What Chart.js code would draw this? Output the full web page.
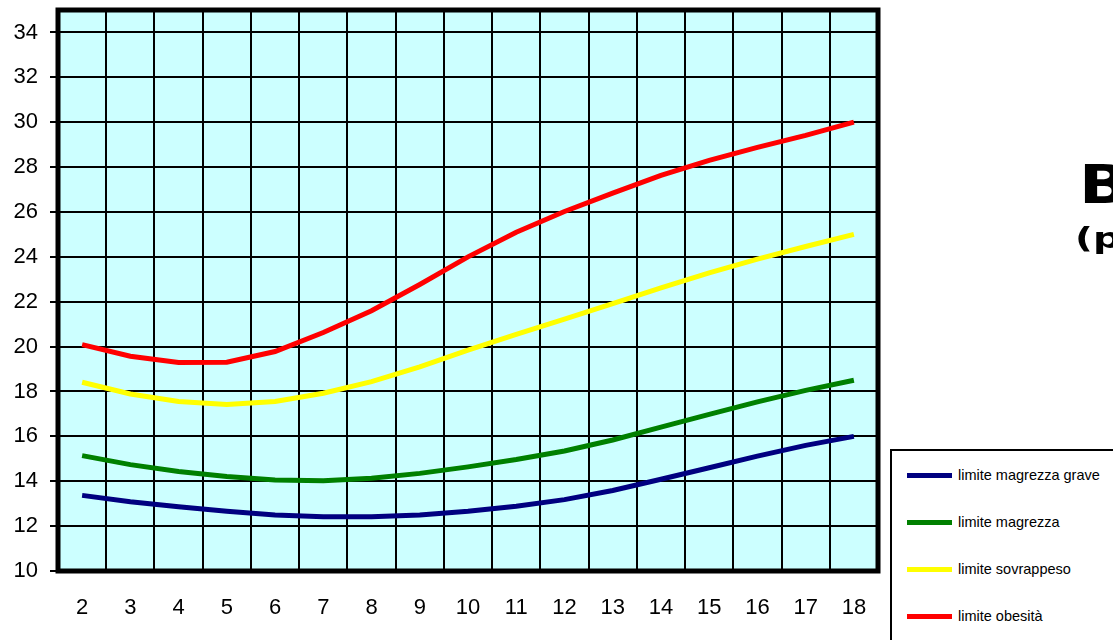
<!DOCTYPE html>
<html>
<head>
<meta charset="utf-8">
<script src="https://cdn.jsdelivr.net/npm/chart.js@4.4.1/dist/chart.umd.min.js"></script>
<style>
    html, body { margin: 0; padding: 0; background: #fff; overflow: hidden; }
    #wrap { position: relative; width: 1113px; height: 640px; overflow: hidden; }
    #chartBox { position: absolute; left: 0; top: 0; width: 1113px; height: 640px; }
    .titolo { position: absolute; font-family: "DejaVu Sans", sans-serif; font-weight: bold; color: #000; line-height: 1; white-space: nowrap; transform-origin: left top; }
    #legenda { position: absolute; left: 890px; top: 449px; width: 300px; height: 260px; border: 2px solid #000; background: #fff; box-sizing: border-box; }
    .voce { position: absolute; left: 0; height: 20px; width: 300px; }
    .voce span.linea { position: absolute; left: 15px; top: 8px; width: 45px; height: 5px; }
    .voce span.testo { position: absolute; left: 66px; top: 0; font-family: "Liberation Sans", Arial, sans-serif; font-size: 14.5px; line-height: 20px; color: #000; white-space: nowrap; }
</style>
</head>
<body>
<div id="wrap">
    <div id="chartBox"><canvas id="ChartBmi"></canvas></div>
    <div class="titolo" style="left:1079px; top:158px; font-size:54px; transform:scaleX(1.2);">BMI</div>
    <div class="titolo" style="left:1075px; top:224px; font-size:29px; transform:scaleX(1.35);">(per età)</div>
    <div id="legenda"></div>
</div>

<script>
// eta' (anni) e soglie BMI
var eta = ["2", "3", "4", "5", "6", "7", "8", "9", "10", "11", "12", "13", "14", "15", "16", "17", "18"];
var magrezzaGrave = [13.37, 13.09, 12.86, 12.66, 12.50, 12.42, 12.42, 12.50, 12.66, 12.89, 13.18, 13.59, 14.09, 14.60, 15.12, 15.60, 16.00];
var magrezza = [15.14, 14.74, 14.43, 14.21, 14.06, 14.02, 14.13, 14.35, 14.64, 14.97, 15.35, 15.84, 16.41, 16.98, 17.54, 18.05, 18.50];
var sovrappeso = [18.41, 17.89, 17.55, 17.42, 17.55, 17.92, 18.44, 19.10, 19.84, 20.55, 21.22, 21.91, 22.62, 23.29, 23.90, 24.46, 25.00];
var obesita = [20.09, 19.57, 19.29, 19.30, 19.78, 20.63, 21.60, 22.77, 24.00, 25.10, 26.02, 26.84, 27.63, 28.30, 28.88, 29.41, 30.00];
var yTicks = [10, 12, 14, 16, 18, 20, 22, 24, 26, 28, 30, 32, 34];

var serie = [
    { label: "limite magrezza grave", data: magrezzaGrave, color: "#000080" },
    { label: "limite magrezza", data: magrezza, color: "#008000" },
    { label: "limite sovrappeso", data: sovrappeso, color: "#ffff00" },
    { label: "limite obesità", data: obesita, color: "#ff0000" }
];

// sfondo e cornice dell'area del grafico
var cornice = {
    id: "cornice",
    beforeDraw: function (chart) {
        var a = chart.chartArea;
        var ctx = chart.ctx;
        ctx.save();
        ctx.fillStyle = "#ccffff";
        ctx.fillRect(a.left, a.top, a.right - a.left, a.bottom - a.top);
        ctx.restore();
    },
    afterDraw: function (chart) {
        var a = chart.chartArea;
        var ctx = chart.ctx;
        ctx.save();
        ctx.strokeStyle = "#000";
        ctx.lineWidth = 5;
        ctx.strokeRect(a.left, a.top, a.right - a.left, a.bottom - a.top);
        ctx.restore();
    }
};

function DisegnaGrafico() {

    var datasets = [];
    for (var i = 0; i < serie.length; ++i) {
        datasets.push({
            label: serie[i].label,
            data: serie[i].data,
            borderColor: serie[i].color,
            backgroundColor: serie[i].color,
            borderWidth: 5,
            pointRadius: 0,
            tension: 0,
            fill: false
        });
    }

    const config = {
        type: "line",
        data: {
            labels: eta,
            datasets: datasets
        },
        options: {
            responsive: true,
            maintainAspectRatio: false,
            animation: false,
            layout: {
                padding: { left: 0, top: 10, right: 235, bottom: 0 }
            },
            plugins: {
                legend: { display: false },
                tooltip: { enabled: false }
            },
            scales: {
                x: {
                    type: "category",
                    offset: true,
                    border: { display: false },
                    grid: {
                        offset: true,
                        color: "#000",
                        lineWidth: 2,
                        drawTicks: false
                    },
                    ticks: {
                        color: "#000",
                        padding: 24,
                        maxRotation: 0,
                        autoSkip: false,
                        font: { family: "Liberation Sans", size: 22 }
                    },
                    afterFit: function (scale) {
                        scale.height = 69;
                        scale.paddingLeft = 0;
                        scale.paddingRight = 0;
                    }
                },
                y: {
                    min: 10,
                    max: 35,
                    border: { display: false },
                    grid: {
                        color: "#000",
                        lineWidth: 2,
                        drawTicks: true,
                        tickLength: 8
                    },
                    ticks: {
                        color: "#000",
                        padding: 12,
                        font: { family: "Liberation Sans", size: 22 }
                    },
                    afterBuildTicks: function (scale) {
                        scale.ticks = yTicks.map(function (v) { return { value: v }; });
                    },
                    afterFit: function (scale) {
                        scale.width = 58;
                        scale.paddingTop = 0;
                        scale.paddingBottom = 0;
                    }
                }
            }
        },
        plugins: [cornice]
    };

    var myChart = Chart.getChart("ChartBmi");
    if (myChart != undefined) {
        myChart.destroy();
    }
    myChart = new Chart(document.getElementById("ChartBmi"), config);

}; // FINE DisegnaGrafico

function DisegnaLegenda() {

    var box = document.getElementById("legenda");
    for (var i = 0; i < serie.length; ++i) {
        var voce = document.createElement("div");
        voce.className = "voce";
        voce.style.top = (14 + i * 47) + "px";

        var linea = document.createElement("span");
        linea.className = "linea";
        linea.style.background = serie[i].color;

        var testo = document.createElement("span");
        testo.className = "testo";
        testo.textContent = serie[i].label;

        voce.appendChild(linea);
        voce.appendChild(testo);
        box.appendChild(voce);
    }

}; // FINE DisegnaLegenda

DisegnaGrafico();
DisegnaLegenda();
</script>
</body>
</html>
